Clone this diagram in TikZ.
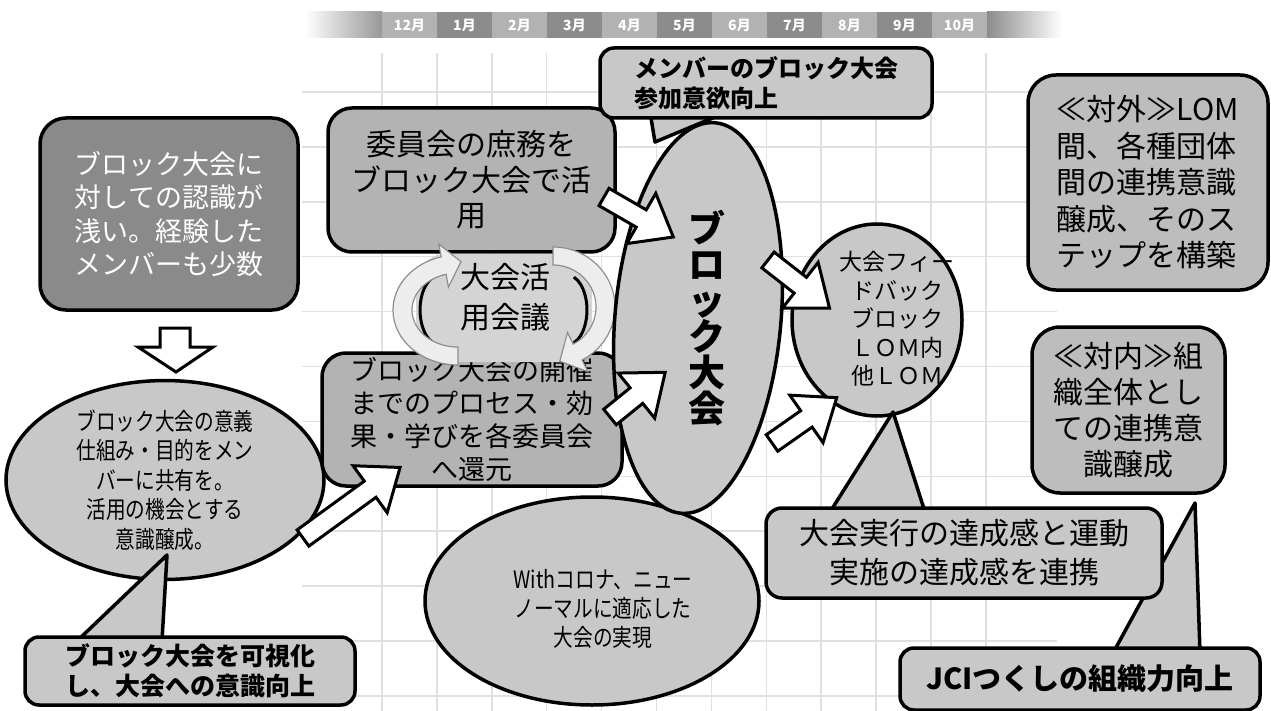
\documentclass[tikz,border=0pt]{standalone}
\usepackage{fontspec}
\newfontfamily\jp{Noto Sans CJK JP}
\newfontfamily\jpc[FakeStretch=0.82]{Noto Sans CJK JP}
\usetikzlibrary{shapes.geometric}
\definecolor{cA}{HTML}{C8C8C8}
\definecolor{cB}{HTML}{B3B3B3}
\definecolor{cD}{HTML}{8A8A8A}
\definecolor{cR}{HTML}{BDBDBD}
\definecolor{mL}{HTML}{B2B2B2}
\definecolor{mD}{HTML}{8C8C8C}
\definecolor{gridc}{HTML}{E0E0E0}
\definecolor{cin}{HTML}{D4D4D4}
\definecolor{carr}{HTML}{EDEDED}
\definecolor{carrl}{HTML}{8E8E8E}
\newcommand\blockarr[3]{%
  \begin{scope}[shift={(#1)}, rotate=#2]
    \draw[barr] (0,-10) -- ({#3-37},-10) -- ({#3-37},-29) -- (#3,0) -- ({#3-37},29) -- ({#3-37},10) -- (0,10) -- cycle;
  \end{scope}}
\begin{document}
\begin{tikzpicture}[x=1pt,y=-1pt,
  ol/.style={draw=black, line width=3.5pt},
  rbox/.style={ol, rounded corners=#1, inner sep=0pt, align=center},
  ell/.style={ol, ellipse, inner sep=0pt, align=center},
  barr/.style={draw=black, line width=3pt, fill=white, line join=miter},
  cav/.style={draw=carrl, line width=1.2pt, fill=carr},
  month/.style={minimum width=55, minimum height=26, inner sep=0pt, text=white, font=\jp\bfseries\fontsize{14}{14}\selectfont},
  gridline/.style={draw=gridc, line width=1.5pt}]
\useasboundingbox (0,0) rectangle (1271,711);
\fill[white] (0,0) rectangle (1271,711);
% grid
\foreach \k in {0,...,11} \draw[gridline] ({382+54.9*\k},53) -- ({382+54.9*\k},711);
\foreach \k in {0,...,11} \draw[gridline] (302,{92+54.9*\k}) -- (1057,{92+54.9*\k});
% month bar
\fill[left color=white, right color=mD!90] (305,12) rectangle (382,38);
\fill[left color=mD, right color=white] (987,12) rectangle (1062,38);
\node[month, fill=mL] (m12) at (409.5,25) {12月};
\node[month, fill=mD] (m1) at (464.5,25) {1月};
\node[month, fill=mL] (m2) at (519.5,25) {2月};
\node[month, fill=mD] (m3) at (574.5,25) {3月};
\node[month, fill=mL] (m4) at (629.5,25) {4月};
\node[month, fill=mD] (m5) at (684.5,25) {5月};
\node[month, fill=mL] (m6) at (739.5,25) {6月};
\node[month, fill=mD] (m7) at (794.5,25) {7月};
\node[month, fill=mL] (m8) at (849.5,25) {8月};
\node[month, fill=mD] (m9) at (904.5,25) {9月};
\node[month, fill=mL] (m10) at (959.5,25) {10月};
% dark box
\node[rbox=26pt, fill=cD, minimum width=258, minimum height=192, text=white, font=\jp\fontsize{27}{33.5}\selectfont] (dark) at (169,214) {ブロック大会に\\対しての認識が\\浅い。経験した\\メンバーも少数};
\draw[barr] (160,328) -- (190,328) -- (190,347) -- (213,347) -- (176,372) -- (138,347) -- (160,347) -- cycle;
% left ellipse
\node[ell, fill=cA, minimum width=318, minimum height=196, font=\jpc\fontsize{24}{29.5}\selectfont] (lell) at (165,480) {ブロック大会の意義\\仕組み・目的をメン\\バーに共有を。\\活用の機会とする\\意識醸成。};
\draw[ol, fill=cA, line join=round] (77,641) -- (167,555) -- (162,641) -- cycle;
\node[rbox=14pt, fill=cA, minimum width=330, minimum height=68, font=\jp\bfseries\fontsize{25}{30}\selectfont] (vis) at (190,671) {ブロック大会を可視化\\し、大会への意識向上};
% with corona
\node[ell, fill=cA, minimum width=334, minimum height=208] (corona) at (592,601) {};
\node[font=\jpc\fontsize{24}{29}\selectfont, align=center] (coronat) at (603,609) {Withコロナ、ニュー\\ノーマルに適応した\\大会の実現};
% middle boxes
\node[rbox=24pt, fill=cB, minimum width=287, minimum height=144, font=\jp\fontsize{30}{35.5}\selectfont] (ubox) at (471.5,180) {委員会の庶務を\\ブロック大会で活\\用};
\node[rbox=24pt, fill=cB, minimum width=300, minimum height=133, font=\jp\fontsize{27}{33.3}\selectfont] (lbox) at (472,419.5) {ブロック大会の開催\\までのプロセス・効\\果・学びを各委員会\\へ還元};
% meeting cycle
\fill[cin, rounded corners=30pt] (416,254) rectangle (592,362);
\draw[line width=3pt] (433.2,277.1) arc[start angle=250, end angle=110, x radius=20, y radius=35];
\draw[line width=3pt] (573.8,277.1) arc[start angle=-70, end angle=70, x radius=20, y radius=35];
\draw[cav] (458,365) arc[start angle=90,end angle=255,x radius=65,y radius=55] -- (438.8,244.1) -- (461,261.7) -- (448.4,287.1) -- (446.1,274.3) arc[start angle=255,end angle=90,x radius=46,y radius=37] -- cycle;
\draw[cav] (553,247) arc[start angle=-90,end angle=62,x radius=62,y radius=60] -- (587.7,371.6) -- (559.8,361.2) -- (567.5,332.4) -- (573.2,344.1) arc[start angle=62,end angle=-90,x radius=43,y radius=42] -- cycle;
\node[font=\jp\fontsize{30}{40}\selectfont, align=center] (kaigi) at (505,297) {大会活\\用会議};
% big ellipse
\node[ell, fill=cA, minimum width=166, minimum height=392, rotate=-5] (big) at (698,318) {};
\node[font=\jp\bfseries\fontsize{37}{36}\selectfont, align=center] (bigt) at (707,318) {ブ\\ロ\\ッ\\ク\\大\\会};
\draw[ol, fill=cA, line join=round] (650,112) -- (655,142) -- (727,112) -- cycle;
\node[rbox=14pt, fill=cA, minimum width=332, minimum height=70, align=left, font=\jp\bfseries\fontsize{24}{30}\selectfont] (tbox) at (766,83) {メンバーのブロック大会\\参加意欲向上};
% arrows into big ellipse
\coordinate (aT) at (604,197);
\coordinate (bT) at (610,417);
\blockarr{aT}{-30}{80}
\blockarr{bT}{39}{71}
% circle
\node[ell, fill=cA, minimum width=170, minimum height=192] (circ) at (877,320) {};
\node[font=\jp\fontsize{23}{28.5}\selectfont, align=center] (circt) at (897,319) {大会フィー\\ドバック\\ブロック\\ＬＯＭ内\\他ＬＯＭ};
\coordinate (cT) at (768,260);
\coordinate (dT) at (772,443);
\blockarr{cT}{-38}{78}
\blockarr{dT}{35}{79}
% callouts right
\draw[ol, fill=cA, line join=round] (830,512) -- (893,412) -- (925,512) -- cycle;
\draw[ol, fill=cA, line join=round] (1113,653) -- (1195,503) -- (1200,653) -- cycle;
\node[rbox=16pt, fill=cA, minimum width=396, minimum height=90, font=\jp\fontsize{30}{39}\selectfont] (tassei) at (964,553) {大会実行の達成感と運動\\実施の達成感を連携};
\node[rbox=14pt, fill=cA, minimum width=360, minimum height=62, font=\jp\bfseries\fontsize{29}{30}\selectfont] (jci) at (1080,679) {JCIつくしの組織力向上};
\node[rbox=28pt, fill=cR, minimum width=240, minimum height=215, align=left, font=\jp\fontsize{30}{36.5}\selectfont] (taigai) at (1148,182.5) {≪対外≫LOM\\間、各種団体\\間の連携意識\\醸成、そのス\\テップを構築};
\node[rbox=28pt, fill=cR, minimum width=193, minimum height=166, font=\jp\fontsize{30}{36}\selectfont] (tainai) at (1128.5,410) {≪対内≫組\\織全体とし\\ての連携意\\識醸成};
% arrow from left ellipse
\coordinate (eT) at (303,538);
\blockarr{eT}{36}{120}
\end{tikzpicture}
\end{document}
